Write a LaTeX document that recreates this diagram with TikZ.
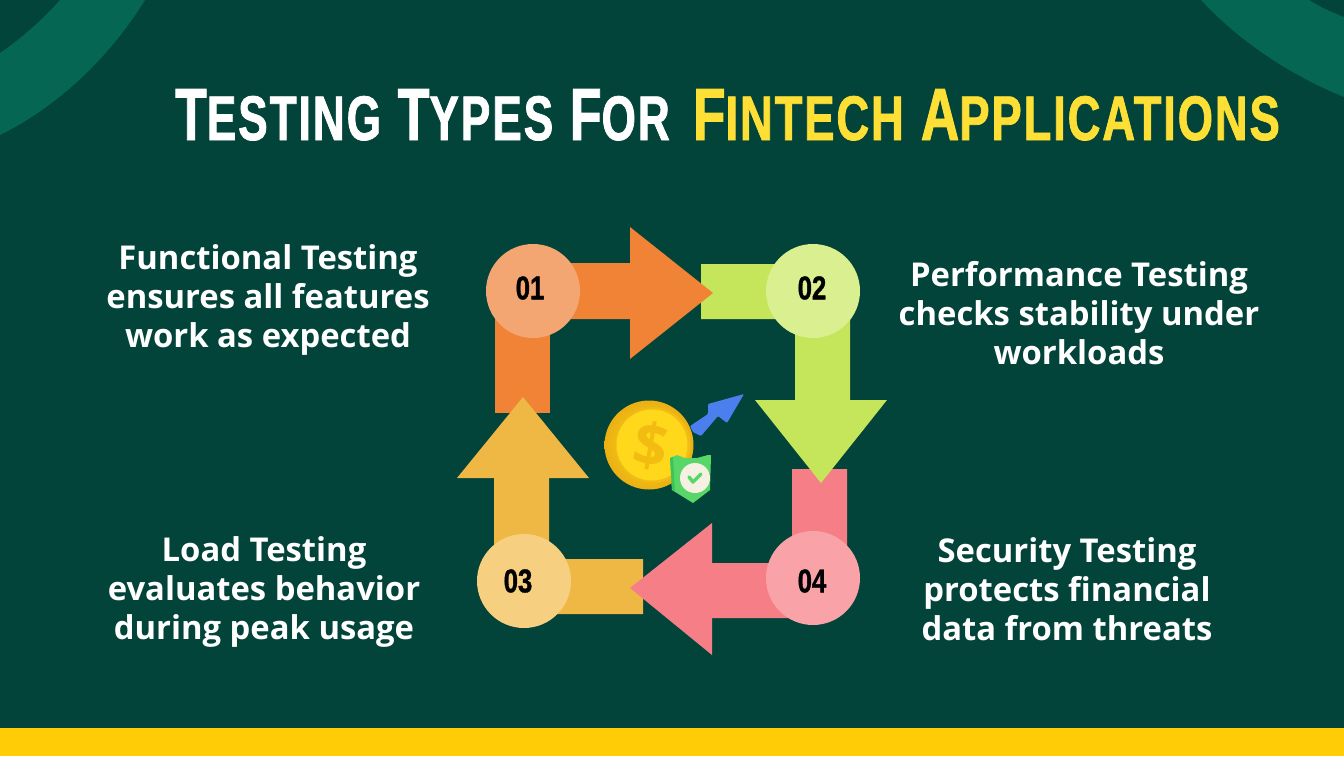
\documentclass[tikz,border=0pt]{standalone}
\usepackage{fontspec}
\setmainfont{Open Sans}
\newfontfamily\titlefont[FakeStretch=0.7,FakeBold=1.2,LetterSpace=3.2]{Liberation Sans Bold}
\newfontfamily\titlefontB[FakeStretch=0.72,FakeBold=1.2,LetterSpace=3]{Liberation Sans Bold}
\newfontfamily\numfont[FakeStretch=0.78,FakeBold=1]{Liberation Sans Bold}
\definecolor{bg}{HTML}{02433A}
\definecolor{band}{HTML}{046653}
\definecolor{barY}{HTML}{FFCC05}
\definecolor{titleY}{HTML}{FDDF35}
\definecolor{org}{HTML}{F08336}
\definecolor{orgL}{HTML}{F4A672}
\definecolor{grn}{HTML}{C5E55A}
\definecolor{grnL}{HTML}{D9EF90}
\definecolor{pnk}{HTML}{F67F87}
\definecolor{pnkL}{HTML}{F9A3A9}
\definecolor{yel}{HTML}{EFB844}
\definecolor{yelL}{HTML}{F6D080}
\definecolor{coinA}{HTML}{FFDD1F}
\definecolor{coinB}{HTML}{EBB012}
\definecolor{coinC}{HTML}{FFD81C}
\definecolor{coinD}{HTML}{F2BD10}
\definecolor{blueA}{HTML}{4C7FEE}
\definecolor{shieldG}{HTML}{58D768}
\definecolor{shieldD}{HTML}{3EC25A}
\definecolor{cream}{HTML}{F4F0E2}
\newcommand{\Bg}[1]{{\fontsize{74}{74}\selectfont #1}}
\newcommand{\Sm}[1]{{\fontsize{63}{74}\selectfont #1}}
\tikzset{
  disc/.style={circle,minimum size=94pt,inner sep=0pt},
  numtext/.style={inner sep=0pt,text=black,font=\numfont\fontsize{33}{33}\selectfont},
  body/.style={align=center,text=white,inner sep=0pt,font=\fontsize{32.8}{39}\selectfont\bfseries},
}
\begin{document}
\begin{tikzpicture}[x=1pt,y=-1pt]
\useasboundingbox (0,0) rectangle (1344,756);
\fill[bg] (0,0) rectangle (1344,756);
% corner bands
\fill[band] (60,0) .. controls (42,20) and (22,38) .. (0,53) -- (0,135)
  .. controls (55,108) and (108,60) .. (145,0) -- cycle;
\fill[band] (1201,0) .. controls (1240,42) and (1290,75) .. (1344,97) -- (1344,17)
  .. controls (1331,12) and (1320,7) .. (1309,0) -- cycle;
\fill[barY] (0,728) rectangle (1344,756);
% title
\node[anchor=base west,inner sep=0pt,text=white,font=\titlefont\fontsize{74}{74}\selectfont] (title1) at (175,140)
  {\Bg{T}\Sm{ESTING} \Bg{T}\Sm{YPES} \Bg{F}\Sm{OR}};
\node[anchor=base east,inner sep=0pt,text=titleY,font=\titlefontB\fontsize{74}{74}\selectfont] (title2) at (1280,140)
  {\Bg{F}\Sm{INTECH} \Bg{A}\Sm{PPLICATIONS}};
% arrows
\fill[org] (495,413) -- (495,291) -- (550,291) -- (550,413) -- cycle;
\fill[yel] (643,559) -- (643,614) -- (524,614) -- (494,590) -- (494,478) -- (457,478)
  -- (523,397) -- (589,478) -- (549,478) -- (549,559) -- cycle;
\fill[pnk] (792,469) -- (847,469) -- (847,578) -- (800,618) -- (712,618) -- (712,655) -- (630,588)
  -- (712,523) -- (712,563) -- (792,563) -- cycle;
\fill[grn] (701,264) -- (813,264) -- (850,291) -- (850,400) -- (887,400) -- (821,483) -- (755,400)
  -- (795,400) -- (795,319) -- (701,319) -- cycle;
\fill[org] (533,263) -- (630,263) -- (630,227) -- (713,293) -- (630,359) -- (630,319)
  -- (533,319) -- cycle;
% discs
\node[disc,fill=orgL] (n1) at (533,291) {};
\node[disc,fill=grnL] (n2) at (813,291) {};
\node[disc,fill=yelL] (n3) at (524,581) {};
\node[disc,fill=pnkL] (n4) at (813,578) {};
\node[numtext] (l1) at (530,288) {01};
\node[numtext] (l2) at (812,288) {02};
\node[numtext] (l3) at (518,581) {03};
\node[numtext] (l4) at (812,581) {04};
% body text
\node[body] (t1) at (268,300) {Functional Testing\\ensures all features\\work as expected};
\node[body] (t2) at (1079,313) {Performance Testing\\checks stability under\\workloads};
\node[body] (t3) at (264,592) {Load Testing\\evaluates behavior\\during peak usage};
\node[body] (t4) at (1067,589) {Security Testing\\protects financial\\data from threats};
% blue arrow
\fill[blueA,rounded corners=1pt] (690,426) -- (708,414) -- (708,404) -- (744,394)
  -- (727,423) -- (718,416) -- (701,436) -- (693,432) -- cycle;
% coin
\shade[inner color=coinA,outer color=coinB] (649,445) circle (44.5);
\fill[coinB!70!coinA] (653,445) circle (37.5);
\fill[coinC] (652,445) circle (35.5);
\node[font=\fontsize{60}{60}\selectfont\bfseries,text=coinD,rotate=-10] (dollar) at (651,446) {\$};
% shield
\fill[shieldG] (670,458) -- (677,455) -- (685,458) -- (697,458) -- (708,455) -- (711,455)
  -- (710,490) -- (693,503) -- (672,490) -- cycle;
\fill[shieldD] (670,458) -- (673,457) -- (675,491) -- (672,490) -- cycle;
\fill[cream] (695,478) circle (15);
\draw[shieldG,line width=3.5pt,line cap=round,line join=round] (689,477) -- (693,482) -- (701,474);
\end{tikzpicture}
\end{document}
